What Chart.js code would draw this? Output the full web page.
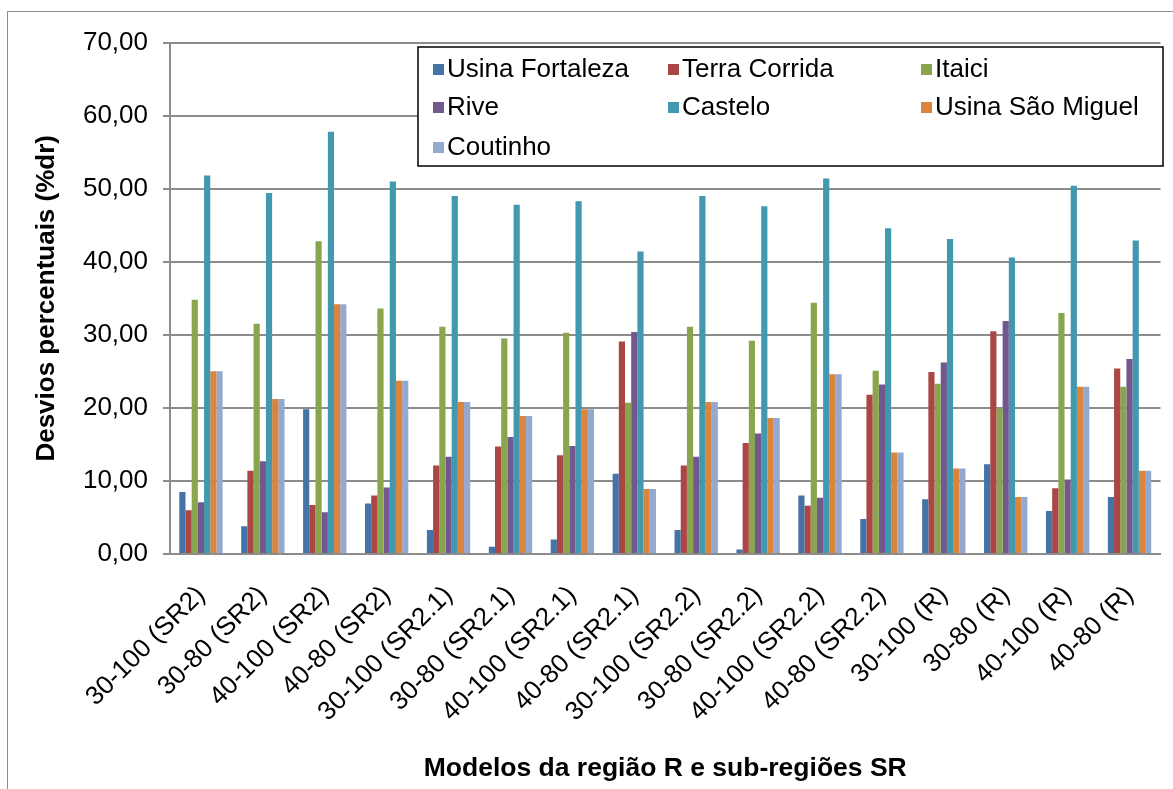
<!DOCTYPE html>
<html>
<head>
<meta charset="utf-8">
<script src="https://cdn.jsdelivr.net/npm/chart.js@4"></script>
<style>
	body { margin: 0; background: #fff; }
	#wrap { position: absolute; left: 7px; top: 11px; width: 1170px; height: 782px; border: 1px solid #8c8c8c; }
</style>
</head>
<body>
<div id="wrap"><canvas id="result_chart"></canvas></div>
<script>
var categories = ['30-100 (SR2)', '30-80 (SR2)', '40-100 (SR2)', '40-80 (SR2)',
	'30-100 (SR2.1)', '30-80 (SR2.1)', '40-100 (SR2.1)', '40-80 (SR2.1)',
	'30-100 (SR2.2)', '30-80 (SR2.2)', '40-100 (SR2.2)', '40-80 (SR2.2)',
	'30-100 (R)', '30-80 (R)', '40-100 (R)', '40-80 (R)'];

var usinaFortaleza = [8.5, 3.8, 19.8, 6.9, 3.3, 1.0, 2.0, 11.0, 3.3, 0.6, 8.0, 4.8, 7.5, 12.3, 5.9, 7.8];
var terraCorrida = [6.0, 11.4, 6.7, 8.0, 12.1, 14.7, 13.5, 29.1, 12.1, 15.2, 6.6, 21.8, 24.9, 30.5, 9.0, 25.4];
var itaici = [34.8, 31.5, 42.8, 33.6, 31.1, 29.5, 30.3, 20.7, 31.1, 29.2, 34.4, 25.1, 23.3, 19.9, 33.0, 22.9];
var rive = [7.1, 12.7, 5.7, 9.1, 13.3, 16.0, 14.8, 30.4, 13.3, 16.5, 7.7, 23.2, 26.2, 31.9, 10.2, 26.7];
var castelo = [51.8, 49.4, 57.8, 51.0, 49.0, 47.8, 48.3, 41.4, 49.0, 47.6, 51.4, 44.6, 43.1, 40.6, 50.4, 42.9];
var usinaSaoMiguel = [25.0, 21.2, 34.2, 23.7, 20.8, 18.9, 19.8, 8.9, 20.8, 18.6, 24.6, 13.9, 11.7, 7.8, 22.9, 11.4];
var coutinho = [25.0, 21.2, 34.2, 23.7, 20.8, 18.9, 19.8, 8.9, 20.8, 18.6, 24.6, 13.9, 11.7, 7.8, 22.9, 11.4];

var yTicks = [0, 10, 20, 30, 40, 50, 60, 70];

var FONT = '"Liberation Sans", Arial, sans-serif';

function ds(label, data, color) {
	return {
		label: label,
		data: data,
		backgroundColor: color,
		borderWidth: 0
	};
}

// legend drawn inside the plot, like the original
var boxLegend = {
	id: 'boxLegend',
	afterDraw: function (chart) {
		var ctx = chart.ctx;
		var x0 = 410, y0 = 35, w = 745, h = 119;
		ctx.save();
		ctx.fillStyle = '#fff';
		ctx.fillRect(x0, y0, w, h);
		ctx.strokeStyle = '#000';
		ctx.lineWidth = 1.5;
		ctx.strokeRect(x0, y0, w, h);
		ctx.font = '26px ' + FONT;
		ctx.textBaseline = 'middle';
		var cols = [425, 660, 913];
		var rows = [57, 95, 135];
		chart.data.datasets.forEach(function (d, i) {
			var cx = cols[i % 3], cy = rows[Math.floor(i / 3)];
			ctx.fillStyle = d.backgroundColor;
			ctx.fillRect(cx, cy - 5, 11, 11);
			ctx.fillStyle = '#000';
			ctx.fillText(d.label, cx + 14, cy + 1);
		});
		ctx.restore();
	}
};

var config = {
	type: 'bar',
	data: {
		labels: categories,
		datasets: [
			ds('Usina Fortaleza', usinaFortaleza, '#4572A7'),
			ds('Terra Corrida', terraCorrida, '#AA4643'),
			ds('Itaici', itaici, '#89A54E'),
			ds('Rive', rive, '#71588F'),
			ds('Castelo', castelo, '#4198AF'),
			ds('Usina São Miguel', usinaSaoMiguel, '#DB843D'),
			ds('Coutinho', coutinho, '#93A9CF')
		]
	},
	options: {
		responsive: true,
		maintainAspectRatio: false,
		animation: false,
		datasets: {
			bar: { categoryPercentage: 0.7, barPercentage: 1.0 }
		},
		layout: {
			padding: { left: 0, right: 13, top: 27, bottom: 0 }
		},
		plugins: {
			legend: { display: false },
			tooltip: { enabled: false }
		},
		scales: {
			x: {
				afterFit: function (s) { s.height = 240; },
				grid: { display: false, drawTicks: false },
				border: { color: '#8c8c8c', width: 2 },
				ticks: {
					color: '#000',
					font: { family: FONT, size: 26 },
					minRotation: 45,
					maxRotation: 45,
					autoSkip: false,
					padding: 26
				},
				title: {
					display: true,
					text: 'Modelos da região R e sub-regiões SR',
					color: '#000',
					font: { family: FONT, size: 26.5, weight: 'bold' },
					padding: { top: 0, bottom: 9 }
				}
			},
			y: {
				min: 0,
				max: 70,
				afterFit: function (s) { s.width = 162; },
				afterBuildTicks: function (axis) {
					axis.ticks = yTicks.map(function (v) { return { value: v }; });
				},
				grid: { color: '#8c8c8c', lineWidth: 2, tickLength: 7 },
				border: { color: '#8c8c8c', width: 2 },
				ticks: {
					color: '#000',
					font: { family: FONT, size: 26 },
					padding: 15,
					callback: function (v) { return v.toFixed(2).replace('.', ','); }
				},
				title: {
					display: true,
					text: 'Desvios percentuais (%dr)',
					color: '#000',
					font: { family: FONT, size: 26, weight: 'bold' },
					padding: { top: 23, bottom: 0 }
				}
			}
		}
	},
	plugins: [boxLegend]
};

var chart = new Chart(document.getElementById('result_chart'), config);
</script>
</body>
</html>
